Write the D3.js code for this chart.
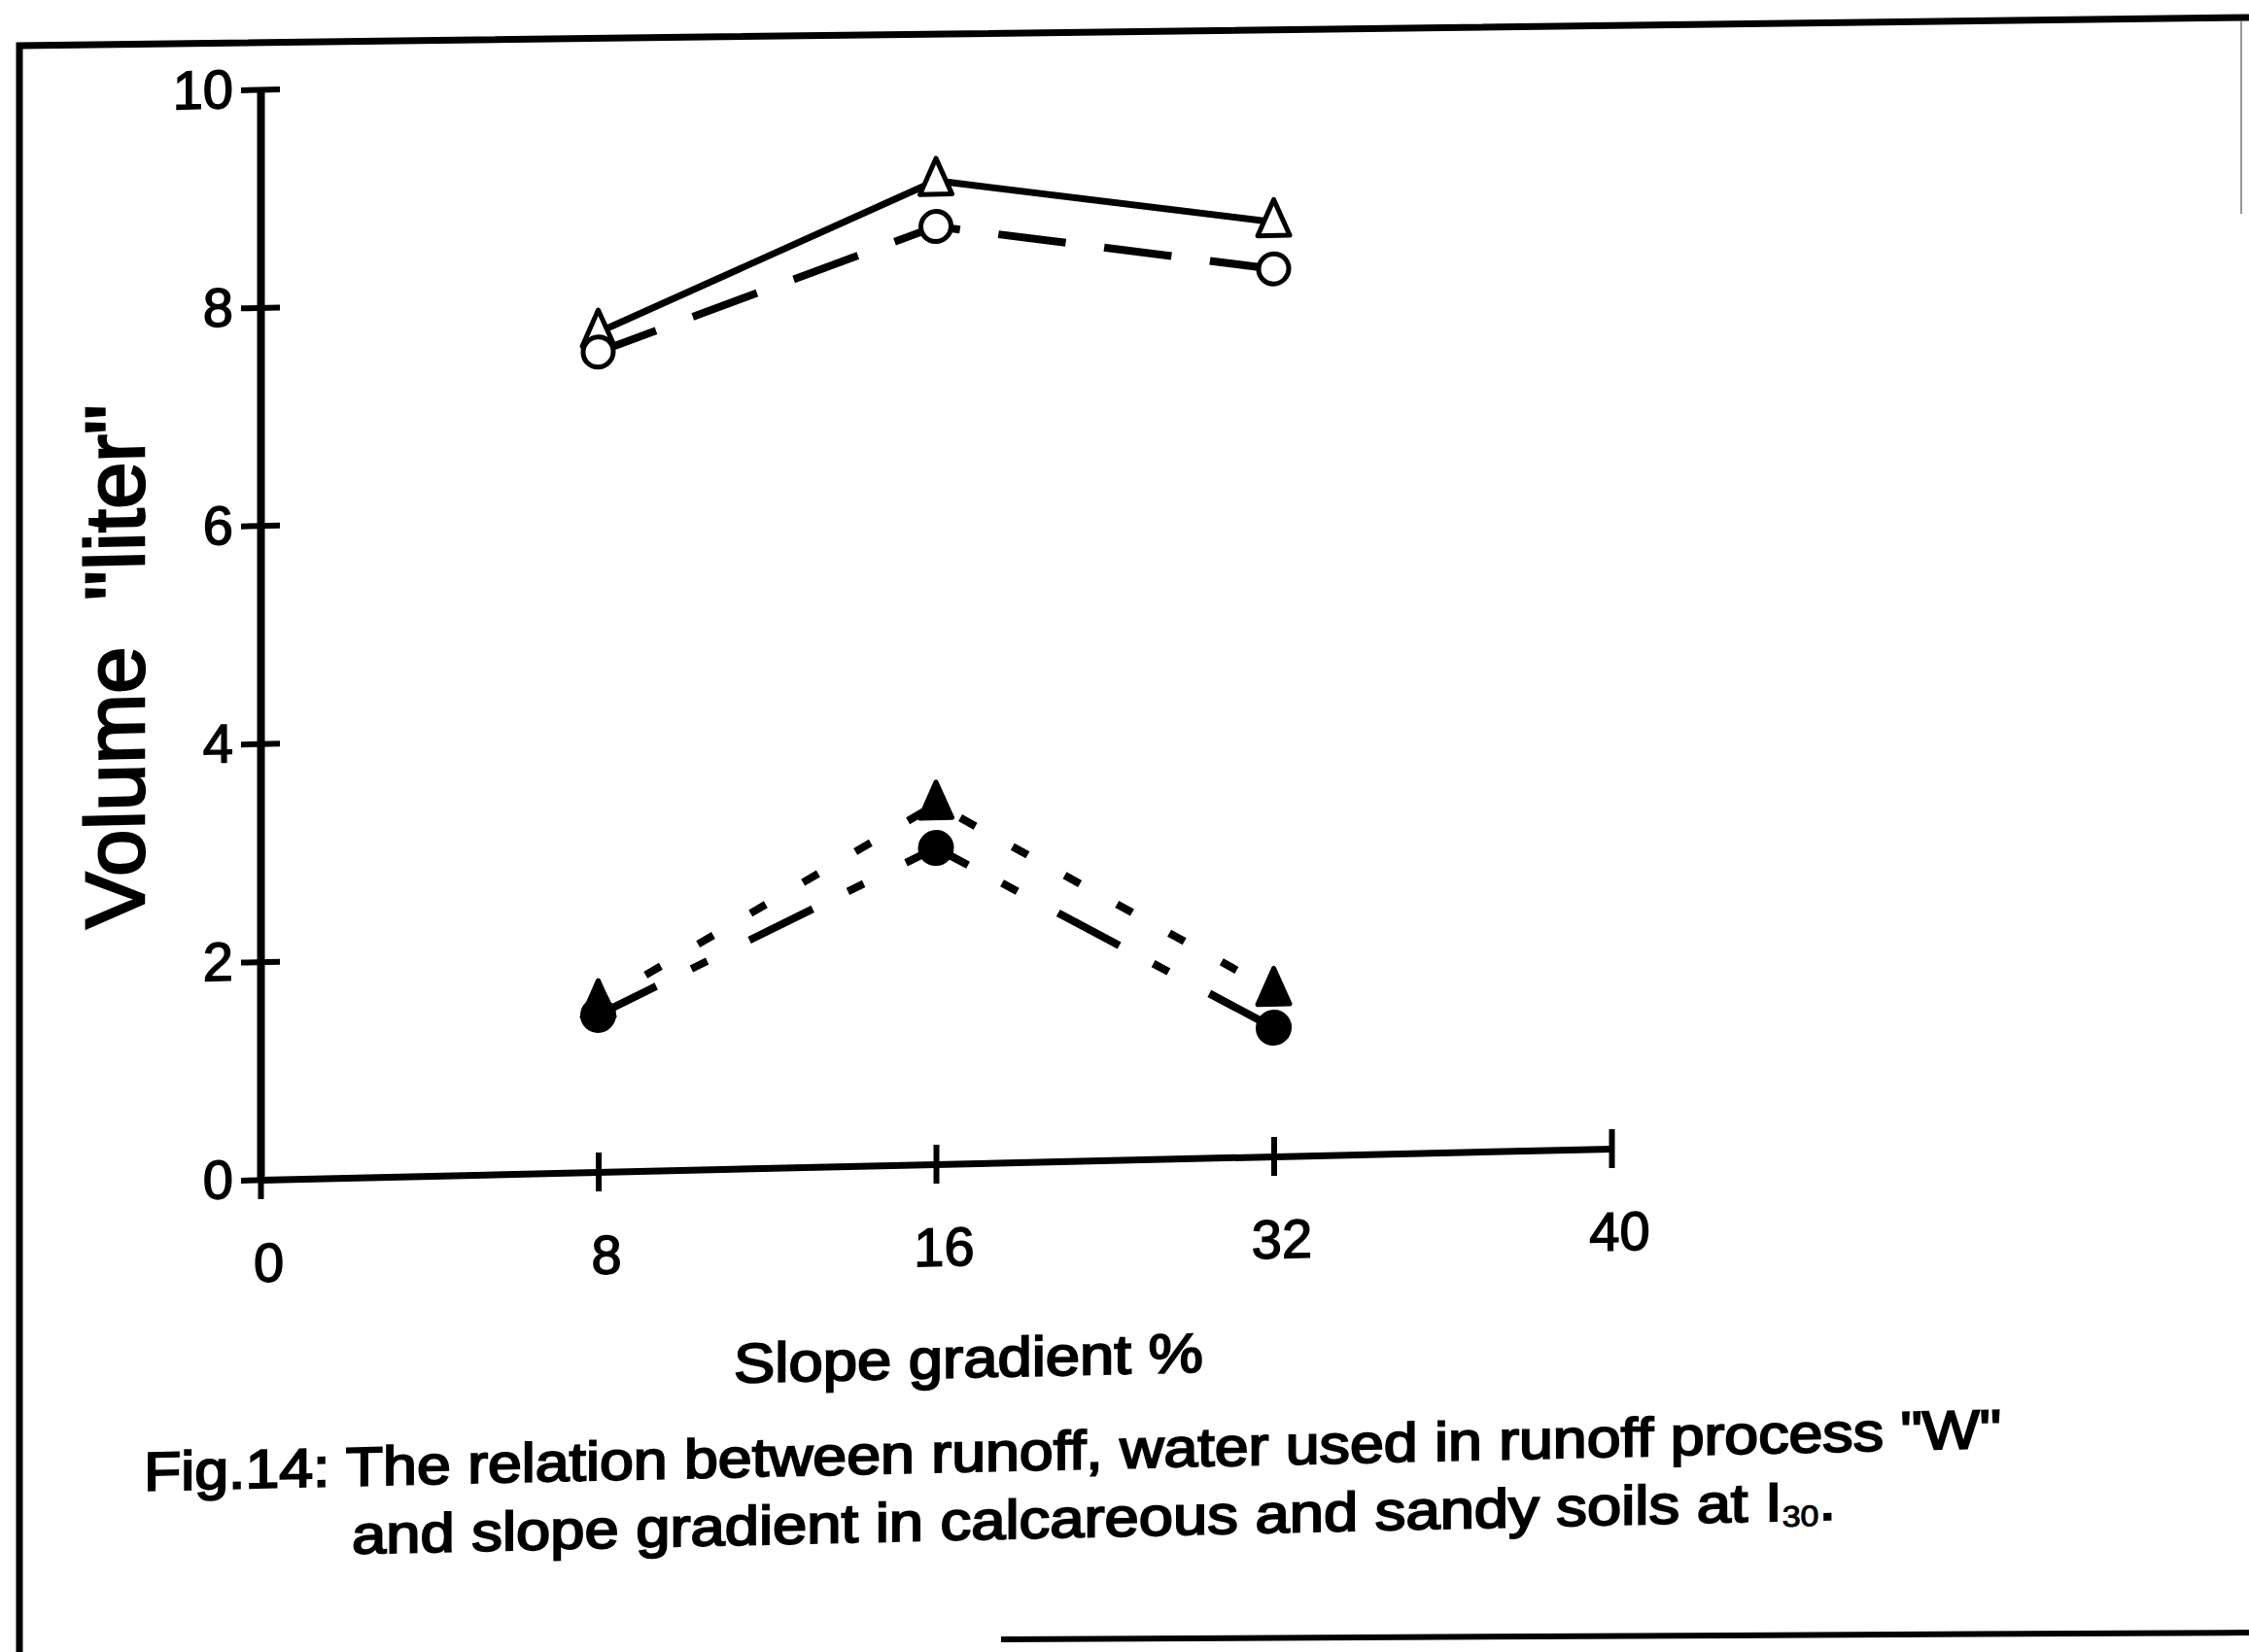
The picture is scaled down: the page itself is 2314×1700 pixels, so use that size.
<!DOCTYPE html>
<html>
<head>
<meta charset="utf-8">
<script src="https://cdn.jsdelivr.net/npm/d3@7"></script>
<style>
    body { margin: 0; background: #fff; }
    svg { display: block; }
    text { font-family: "Liberation Sans", Arial, sans-serif; fill: #000; }
</style>
</head>
<body>
<div id="content"></div>
<script>
// slope gradient categories (equally spaced on the axis)
const slopeTicks = ['0', '8', '16', '32', '40'];
const slopes = ['8', '16', '32'];
const volumeTicks = [0, 2, 4, 6, 8, 10];

// Volume "liter"
const openTriangle = [7.7, 9.02, 8.57];     // solid line
const openCircle = [7.52, 8.6, 8.14];       // long dashes
const filledTriangle = [1.55, 3.3, 1.52];   // short dashes
const filledCircle = [1.44, 2.9, 1.18];     // dash-dot

const W = 2314, H = 1700;

const svg = d3.select('#content').append('svg')
    .attr('width', W)
    .attr('height', H);

svg.append('rect').attr('width', W).attr('height', H).attr('fill', '#fff');

// scanned page frame
const frame = svg.append('g').attr('fill', 'none').attr('stroke', '#000');
frame.append('path').attr('d', 'M20,1700 L20,47 L2314,18').attr('stroke-width', 7);
frame.append('path').attr('d', 'M1030,1687 L2314,1680').attr('stroke-width', 6);
frame.append('path').attr('d', 'M2306,22 L2306,220').attr('stroke', '#999').attr('stroke-width', 2);

const x = d3.scalePoint().domain(slopeTicks).range([268, 1658]);
const y = d3.scaleLinear().domain([0, 10]).range([1214, 92]);

// the scan is slightly sheared, keep the chart on that slant
const ox = x('0'), oy = y(0);
const g = svg.append('g')
    .attr('transform', `translate(${ox},${oy}) skewY(-1.32) translate(${-ox},${-oy})`);

// y axis, ticks cross the line
const yAxis = g.append('g')
    .attr('transform', `translate(${ox},0)`)
    .call(d3.axisLeft(y).tickValues(volumeTicks).tickSize(20).tickSizeOuter(0).tickPadding(8));
yAxis.select('.domain').attr('stroke-width', 8);
yAxis.selectAll('.tick line').attr('x1', 20).attr('x2', -20).attr('stroke-width', 6);
yAxis.selectAll('.tick text')
    .attr('font-size', 56)
    .attr('stroke', '#000').attr('stroke-width', 1.5)
    .style('font-family', '"Liberation Sans", Arial, sans-serif');

// x axis
const xAxis = g.append('g')
    .attr('transform', `translate(0,${oy})`)
    .call(d3.axisBottom(x).tickSize(20).tickSizeOuter(0).tickPadding(45));
xAxis.select('.domain').attr('stroke-width', 7);
xAxis.selectAll('.tick line').attr('y1', -20).attr('y2', 20).attr('stroke-width', 6);
xAxis.selectAll('.tick text')
    .attr('x', 8)
    .attr('font-size', 56)
    .attr('stroke', '#000').attr('stroke-width', 1.5)
    .style('font-family', '"Liberation Sans", Arial, sans-serif');

// axis titles
g.append('text')
    .attr('transform', 'translate(148,682) rotate(-90)')
    .attr('text-anchor', 'middle')
    .attr('font-size', 86)
    .attr('stroke', '#000').attr('stroke-width', 2.5)
    .attr('textLength', 539).attr('lengthAdjust', 'spacingAndGlyphs')
    .text('Volume\u00A0 "liter"');

g.append('text')
    .attr('x', 755).attr('y', 1434)
    .attr('font-size', 57)
    .attr('stroke', '#000').attr('stroke-width', 2)
    .attr('textLength', 483).attr('lengthAdjust', 'spacingAndGlyphs')
    .text('Slope gradient %');

// caption
g.append('text')
    .attr('x', 148).attr('y', 1531)
    .attr('font-size', 56)
    .attr('stroke', '#000').attr('stroke-width', 2)
    .attr('textLength', 1911).attr('lengthAdjust', 'spacingAndGlyphs')
    .text('Fig.14: The relation between runoff, water used in runoff process "W"');

const cap2 = g.append('text')
    .attr('x', 362).attr('y', 1601)
    .attr('font-size', 56)
    .attr('stroke', '#000').attr('stroke-width', 2)
    .attr('textLength', 1527).attr('lengthAdjust', 'spacingAndGlyphs');
cap2.append('tspan').text('and slope gradient in calcareous and sandy soils at I');
cap2.append('tspan').attr('font-size', 30).attr('dy', 6).attr('stroke-width', 1).text('30');
cap2.append('tspan').attr('dy', -6).text('.');

// series
const series = [
    { values: openTriangle, dash: null, offset: 0, width: 7, shape: 'triangle', fill: '#fff' },
    { values: openCircle, dash: '70,40', offset: 7, width: 8, shape: 'circle', fill: '#fff' },
    { values: filledTriangle, dash: '18,44', offset: 6, width: 8, shape: 'triangle', fill: '#000' },
    { values: filledCircle, dash: '72,40,18,48', offset: 6, width: 8, shape: 'circle', fill: '#000' }
];

const line = d3.line()
    .x(d => x(d.s))
    .y(d => y(d.v));

series.forEach(sr => {
    sr.points = slopes.map((s, i) => ({ s: s, v: sr.values[i] }));
});

g.selectAll('path.series-line').data(series).enter().append('path')
    .classed('series-line', true)
    .attr('d', d => line(d.points))
    .attr('fill', 'none')
    .attr('stroke', '#000')
    .attr('stroke-width', d => d.width)
    .attr('stroke-dasharray', d => d.dash)
    .attr('stroke-dashoffset', d => d.offset);

const triPath = 'M0,-23 L16.5,14 L-16.5,14 Z';

// triangles first, circles sit on top of them at 8 %
const order = [series[0], series[2], series[1], series[3]];
order.forEach(sr => {
    const sel = g.append('g').selectAll('.marker').data(sr.points).enter();
    if (sr.shape === 'triangle') {
        sel.append('path')
            .attr('d', triPath)
            .attr('transform', d => `translate(${x(d.s)},${y(d.v)})`)
            .attr('fill', sr.fill)
            .attr('stroke', '#000')
            .attr('stroke-width', 5)
            .attr('stroke-linejoin', 'round');
    } else {
        sel.append('circle')
            .attr('cx', d => x(d.s))
            .attr('cy', d => y(d.v))
            .attr('r', sr.fill === '#000' ? 16 : 15.5)
            .attr('fill', sr.fill)
            .attr('stroke', '#000')
            .attr('stroke-width', 5);
    }
});
</script>
</body>
</html>
